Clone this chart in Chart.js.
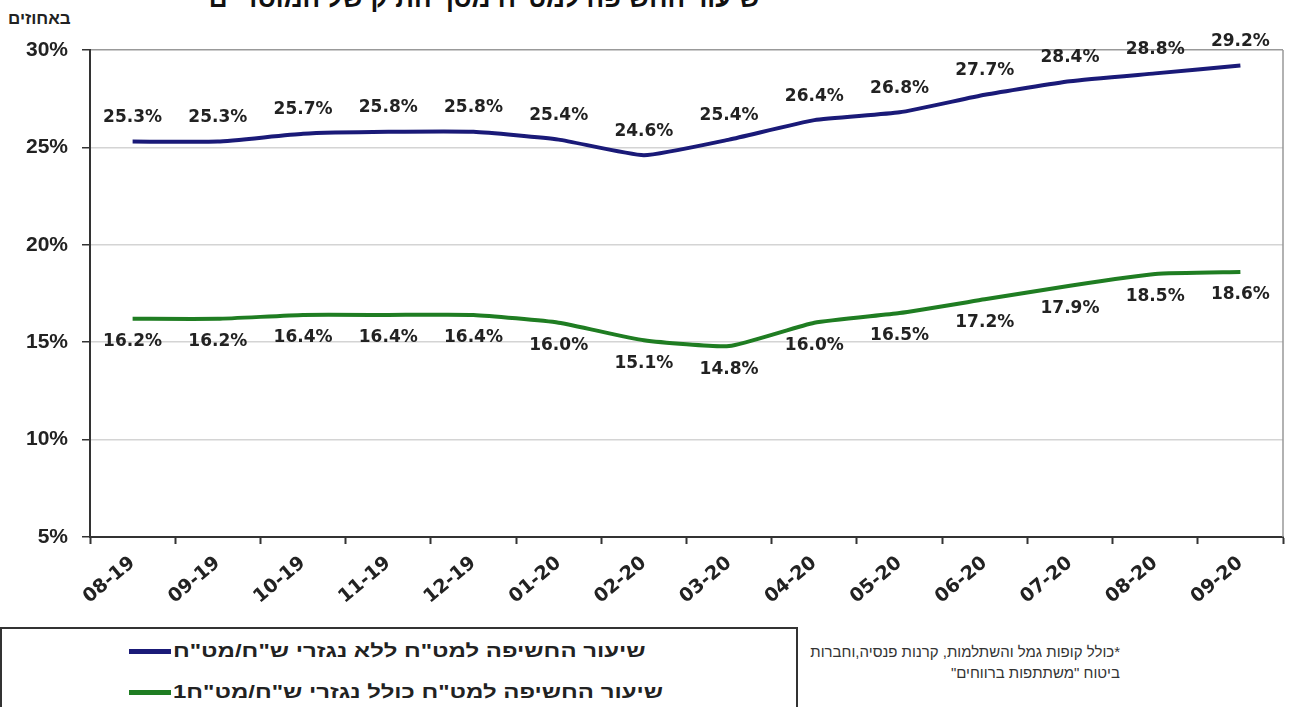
<!DOCTYPE html>
<html>
<head>
<meta charset="utf-8">
<script src="https://cdn.jsdelivr.net/npm/chart.js@4.4.0/dist/chart.umd.min.js"></script>
<style>
	html, body { margin: 0; padding: 0; background: #fff; overflow: hidden; }
	body { width: 1293px; height: 707px; position: relative; font-family: 'Liberation Sans', Arial, sans-serif; }
	#title { position: absolute; top: -17px; right: 533px; font: bold 26px 'Liberation Sans', Arial, sans-serif; color: #111; white-space: nowrap; }
	#unit { position: absolute; top: 9px; left: 8px; font: bold 17px 'Liberation Sans', Arial, sans-serif; color: #222; }
	#chartWrap { position: absolute; top: 0; left: 0; width: 1293px; height: 625px; }
	#legend { position: absolute; left: 0; top: 627px; width: 798px; height: 100px; border: 2px solid #333; box-sizing: border-box; }
	.item { position: absolute; left: 127px; display: flex; align-items: center; }
	.swatch { width: 42px; height: 5px; }
	.item span { display: inline-block; font: bold 18px 'Liberation Sans', Arial, sans-serif; color: #222; margin-left: 2px; transform: scaleX(1.33); transform-origin: left center; }
	#note { position: absolute; right: 173px; top: 641px; font: 15px 'Liberation Sans', Arial, sans-serif; color: #333; text-align: right; line-height: 21px; }
</style>
</head>
<body>
<div id="title" dir="rtl">שיעור החשיפה למט"ח מסך התיק של המוסדיים*</div>
<div id="unit" dir="rtl">באחוזים</div>
<div id="chartWrap"><canvas id="chart"></canvas></div>
<div id="legend"></div>
<div id="note" dir="rtl">*כולל קופות גמל והשתלמות, קרנות פנסיה,וחברות<br>ביטוח "משתתפות ברווחים"</div>
<script>
var months = ['08-19', '09-19', '10-19', '11-19', '12-19', '01-20', '02-20', '03-20', '04-20', '05-20', '06-20', '07-20', '08-20', '09-20'];
var withoutDerivatives = [25.3, 25.3, 25.7, 25.8, 25.8, 25.4, 24.6, 25.4, 26.4, 26.8, 27.7, 28.4, 28.8, 29.2];
var withDerivatives = [16.2, 16.2, 16.4, 16.4, 16.4, 16.0, 15.1, 14.8, 16.0, 16.5, 17.2, 17.9, 18.5, 18.6];
var seriesNames = ['שיעור החשיפה למט"ח ללא נגזרי ש"ח/מט"ח', 'שיעור החשיפה למט"ח כולל נגזרי ש"ח/מט"ח1'];
var yTicks = [5, 10, 15, 20, 25, 30];

var colors = ['#1a1a78', '#1f7d22'];
var labelOffsets = [-24, 23];

// value labels above/below each point
var pointLabels = {
	id: 'pointLabels',
	afterDatasetsDraw: function (chart) {
		var ctx = chart.ctx;
		ctx.save();
		ctx.font = 'bold 17px "DejaVu Sans", Verdana, sans-serif';
		ctx.fillStyle = '#222';
		ctx.textAlign = 'center';
		ctx.textBaseline = 'middle';
		chart.data.datasets.forEach(function (ds, i) {
			chart.getDatasetMeta(i).data.forEach(function (pt, j) {
				ctx.fillText(ds.data[j].toFixed(1) + '%', pt.x, pt.y + labelOffsets[i]);
			});
		});
		ctx.restore();
	}
};

// thin frame on the right side of the plot
var rightFrame = {
	id: 'rightFrame',
	beforeDatasetsDraw: function (chart) {
		var a = chart.chartArea, ctx = chart.ctx;
		ctx.save();
		ctx.strokeStyle = '#999';
		ctx.lineWidth = 1.5;
		ctx.beginPath();
		ctx.moveTo(a.right, a.top);
		ctx.lineTo(a.right, a.bottom);
		ctx.stroke();
		ctx.restore();
	}
};

var chart = new Chart(document.getElementById('chart'), {
	type: 'line',
	data: {
		labels: months,
		datasets: [withoutDerivatives, withDerivatives].map(function (d, i) {
			return {
				label: seriesNames[i],
				data: d,
				borderColor: colors[i],
				backgroundColor: colors[i],
				borderWidth: 4,
				pointRadius: 0,
				tension: 0.15
			};
		})
	},
	options: {
		responsive: true,
		maintainAspectRatio: false,
		animation: false,
		layout: { padding: { top: 50, right: 10, left: 0, bottom: 0 } },
		plugins: { legend: { display: false }, tooltip: { enabled: false } },
		scales: {
			x: {
				offset: true,
				grid: { drawOnChartArea: false, offset: true, tickLength: 7, tickColor: '#333', tickWidth: 2 },
				border: { color: '#333', width: 2 },
				ticks: {
					minRotation: 40, maxRotation: 40, padding: 8,
					color: '#222',
					font: { family: '"DejaVu Sans", Verdana, sans-serif', size: 19, weight: 'bold' }
				},
				afterFit: function (s) { s.height = 88; }
			},
			y: {
				min: 5, max: 30,
				afterBuildTicks: function (s) { s.ticks = yTicks.map(function (v) { return { value: v }; }); },
				grid: {
					color: function (c) { return c.tick && c.tick.value === 30 ? '#999' : '#d4d4d4'; },
					lineWidth: 1.5, tickLength: 8, tickColor: '#333'
				},
				border: { color: '#333', width: 2 },
				ticks: {
					padding: 14, color: '#222',
					font: { family: '"Liberation Sans", Arial, sans-serif', size: 21, weight: 'bold' },
					callback: function (v) { return v + '%'; }
				},
				afterFit: function (s) { s.width = 90; }
			}
		}
	},
	plugins: [pointLabels, rightFrame]
});

// legend built from the series
var legend = document.getElementById('legend');
seriesNames.forEach(function (name, i) {
	var item = document.createElement('div');
	item.className = 'item';
	item.style.top = (i === 0 ? 12 : 53) + 'px';
	var sw = document.createElement('div');
	sw.className = 'swatch';
	sw.style.background = colors[i];
	var txt = document.createElement('span');
	txt.dir = 'rtl';
	txt.textContent = name;
	item.appendChild(sw);
	item.appendChild(txt);
	legend.appendChild(item);
});
</script>
</body>
</html>
